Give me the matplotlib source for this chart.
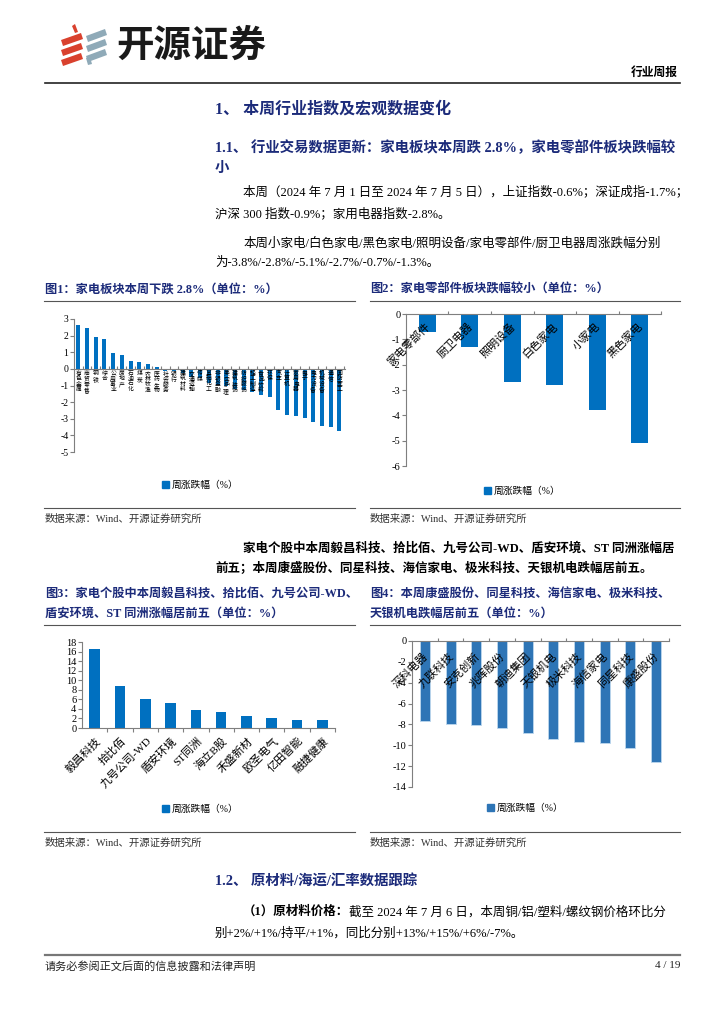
import numpy as np
import matplotlib
matplotlib.use("Agg")
from matplotlib import pyplot as plt
from matplotlib.patches import Polygon, Patch

plt.rcParams['font.family'] = ['Liberation Serif', 'Noto Sans CJK SC', 'DejaVu Sans']
plt.rcParams['axes.unicode_minus'] = False

# ---data---
ind_names = ['有色金属', '商贸零售', '钢铁', '综合', '公用事业', '房地产', '石油石化', '煤炭',
             '农林牧渔', '医药生物', '社会服务', '银行', '建筑材料', '交通运输', '传媒', '基础化工',
             '非银金融', '美容护理', '建筑装饰', '纺织服饰', '轻工制造', '食品饮料', '环保', '汽车',
             '计算机', '家用电器', '电子', '电力设备', '机械设备', '通信', '国防军工']
ind_chg = [2.64, 2.44, 1.94, 1.80, 0.98, 0.84, 0.46, 0.42, 0.28, 0.12, -0.10, -0.12, -0.22,
           -0.50, -0.56, -0.86, -0.96, -1.06, -1.20, -1.30, -1.40, -1.55, -1.70, -2.46,
           -2.76, -2.82, -2.94, -3.18, -3.46, -3.52, -3.76]

sub_names = ['家电零部件', '厨卫电器', '照明设备', '白色家电', '小家电', '黑色家电']
sub_chg = [-0.7, -1.3, -2.7, -2.8, -3.8, -5.1]

gain_names = ['毅昌科技', '拾比佰', '九号公司-WD', '盾安环境', 'ST同洲', '海立B股', '禾盛新材',
              '欧圣电气', '亿田智能', '融捷健康']
gain_chg = [16.5, 8.7, 6.0, 5.3, 3.84, 3.35, 2.6, 2.16, 1.67, 1.67]

loss_names = ['深科电器', '九联科技', '安克创新', '兆晖股份', '朝迪集团', '天银机电', '极米科技',
              '海信家电', '同星科技', '康盛股份']
loss_chg = [-7.64, -7.96, -8.09, -8.34, -8.85, -9.39, -9.68, -9.78, -10.29, -11.59]

legend_label = '周涨跌幅（%）'
BLUE = '#0070C0'
BLUE2 = '#2E75B6'
NAVY = '#1C2B7A'
BODY = 9.0

W, H = 724, 1024
fig = plt.figure(figsize=(W / 100, H / 100), dpi=100)

# page canvas in pixel coords
page = fig.add_axes([0, 0, 1, 1], zorder=0)
page.set_xlim(0, W)
page.set_ylim(H, 0)
page.axis('off')


def add_ax(x0, y0, x1, y1):
    return fig.add_axes([x0 / W, 1 - y1 / H, (x1 - x0) / W, (y1 - y0) / H], zorder=2)


def txt(x, y, s, size=BODY, bold=False, color='black', ha='left'):
    return page.text(x, y, s, fontsize=size, fontweight='bold' if bold else 'normal',
                     color=color, ha=ha, va='center')


# ---header---
red = '#D9412E'
grey_blue = '#8FAAB8'
for dy in (0, 10, 20):
    page.add_patch(Polygon([[61, 40 + dy], [81, 33 + dy], [83, 39 + dy], [63, 46 + dy]],
                           closed=True, color=red, lw=0))
page.add_patch(Polygon([[72, 26], [75, 24], [78, 32], [75, 33]], closed=True, color=red, lw=0))
for dy in (0, 10, 20):
    page.add_patch(Polygon([[86, 36 + dy], [105, 29 + dy], [107, 35 + dy], [88, 42 + dy]],
                           closed=True, color=grey_blue, lw=0))
page.add_patch(Polygon([[86, 58], [90, 57], [92, 64], [88, 65]], closed=True, color=grey_blue, lw=0))
page.text(116, 45, '开源证券', fontsize=27, fontweight='bold', color='#1a1a1a', va='center',
          family=['Noto Sans CJK SC'])

txt(678, 73, '行业周报', size=8.5, bold=True, ha='right')
page.plot([45, 680], [83, 83], color='#222222', lw=1.2)

# ---section text---
txt(215, 110, '1、 本周行业指数及宏观数据变化', size=11.5, bold=True, color=NAVY)
txt(215, 148, '1.1、 行业交易数据更新：家电板块本周跌 2.8%，家电零部件板块跌幅较', size=10.4, bold=True, color=NAVY)
txt(215, 168, '小', size=10.4, bold=True, color=NAVY)
txt(243, 192, '本周（2024 年 7 月 1 日至 2024 年 7 月 5 日），上证指数-0.6%；深证成指-1.7%；')
txt(215, 214, '沪深 300 指数-0.9%；家用电器指数-2.8%。')
txt(243, 243, '本周小家电/白色家电/黑色家电/照明设备/家电零部件/厨卫电器周涨跌幅分别')
txt(215, 263, '为-3.8%/-2.8%/-5.1%/-2.7%/-0.7%/-1.3%。')

txt(243, 548, '家电个股中本周毅昌科技、拾比佰、九号公司-WD、盾安环境、ST 同洲涨幅居', bold=True)
txt(215, 568, '前五；本周康盛股份、同星科技、海信家电、极米科技、天银机电跌幅居前五。', bold=True)

# figure titles, rules, sources
txt(45, 290, '图1：家电板块本周下跌 2.8%（单位：%）', size=8.8, bold=True, color=NAVY)
txt(370, 290, '图2：家电零部件板块跌幅较小（单位：%）', size=8.8, bold=True, color=NAVY)
txt(45, 594, '图3：家电个股中本周毅昌科技、拾比佰、九号公司-WD、', size=8.8, bold=True, color=NAVY)
txt(45, 614, '盾安环境、ST 同洲涨幅居前五（单位：%）', size=8.8, bold=True, color=NAVY)
txt(370, 594, '图4：本周康盛股份、同星科技、海信家电、极米科技、', size=8.8, bold=True, color=NAVY)
txt(370, 614, '天银机电跌幅居前五（单位：%）', size=8.8, bold=True, color=NAVY)
for x0, x1 in ((44, 355), (370, 680)):
    page.plot([x0, x1], [301, 301], color='#555555', lw=0.8)
    page.plot([x0, x1], [508, 508], color='#555555', lw=0.8)
    page.plot([x0, x1], [625, 625], color='#555555', lw=0.8)
    page.plot([x0, x1], [832, 832], color='#555555', lw=0.8)
for x0 in (45, 370):
    txt(x0, 519, '数据来源：Wind、开源证券研究所', size=7.5, color='#333333')
    txt(x0, 843, '数据来源：Wind、开源证券研究所', size=7.5, color='#333333')

txt(215, 881, '1.2、 原材料/海运/汇率数据跟踪', size=10.4, bold=True, color=NAVY)
t = txt(243, 912, '（1）原材料价格：', bold=True)
fig.canvas.draw()
bb = t.get_window_extent().transformed(page.transData.inverted())
txt(bb.x1, 912, '截至 2024 年 7 月 6 日，本周铜/铝/塑料/螺纹钢价格环比分')
txt(215, 933, '别+2%/+1%/持平/+1%，同比分别+13%/+15%/+6%/-7%。')

page.plot([45, 680], [955, 955], color='#777777', lw=1.6)
txt(45, 966, '请务必参阅正文后面的信息披露和法律声明', size=8, color='#222222')
txt(680, 966, '4 / 19', size=8, ha='right', color='#222222')


def style_axis(ax, fs):
    for s in ax.spines.values():
        s.set_color('#7f7f7f')
        s.set_linewidth(0.8)
    ax.tick_params(axis='y', labelsize=fs, length=3, width=0.8, color='#7f7f7f', pad=1)
    ax.set_facecolor('none')


def add_legend(x, y, color):
    fig.legend([Patch(color=color)], [legend_label], loc='center',
               bbox_to_anchor=(x / W, 1 - y / H), frameon=False, fontsize=7,
               handlelength=0.7, handleheight=0.7, handletextpad=0.3)


# ---Figure 1: all industries---
ax1 = add_ax(74, 319, 345, 452)
x1 = np.arange(len(ind_names))
ax1.bar(x1, ind_chg, width=0.45, color=BLUE, zorder=2)
ax1.set_xlim(-0.5, 30.65)
ax1.set_ylim(-5, 3)
ax1.set_yticks(range(-5, 4))
style_axis(ax1, 7)
ax1.spines['top'].set_visible(False)
ax1.spines['right'].set_visible(False)
ax1.spines['bottom'].set_position(('data', 0))
ax1.set_xticks(x1 + 0.5)
ax1.tick_params(axis='x', direction='in', length=2, color='#7f7f7f', labelbottom=False)
for i, name in enumerate(ind_names):
    ax1.text(i, -0.12, '\n'.join(name), ha='center', va='top', fontsize=4.2,
             linespacing=1.05, zorder=3)
add_legend(200, 485, BLUE)

# ---Figure 2: sub-sectors---
ax2 = add_ax(406, 314, 661, 466)
x2 = np.arange(len(sub_names))
ax2.bar(x2, sub_chg, width=0.4, color=BLUE, zorder=2)
ax2.set_xlim(-0.5, 5.5)
ax2.set_ylim(-6, 0)
ax2.set_yticks(range(-6, 1))
style_axis(ax2, 7.5)
ax2.spines['bottom'].set_visible(False)
ax2.spines['right'].set_visible(False)
ax2.xaxis.tick_top()
ax2.set_xticks(x2 + 0.5)
ax2.tick_params(axis='x', direction='out', length=2.5, color='#7f7f7f', labeltop=False)
for i, name in enumerate(sub_names):
    ax2.text(i + 0.03, -0.42, name, ha='right', va='center', rotation=45,
             rotation_mode='anchor', fontsize=8, zorder=3)
add_legend(522, 491, BLUE)

# ---Figure 3: top gainers---
ax3 = add_ax(82, 642, 335, 728)
x3 = np.arange(len(gain_names))
ax3.bar(x3, gain_chg, width=0.42, color=BLUE, zorder=2)
ax3.set_xlim(-0.5, 9.5)
ax3.set_ylim(0, 18)
ax3.set_yticks(range(0, 19, 2))
style_axis(ax3, 7.5)
ax3.spines['top'].set_visible(False)
ax3.spines['right'].set_visible(False)
ax3.set_xticks(x3 + 0.5)
ax3.tick_params(axis='x', direction='out', length=3, color='#7f7f7f', labelbottom=False)
for i, name in enumerate(gain_names):
    ax3.text(i + 0.17, -0.128, name, ha='right', va='center', rotation=45,
             rotation_mode='anchor', fontsize=8, transform=ax3.get_xaxis_transform())
add_legend(200, 809, BLUE)

# ---Figure 4: top losers---
ax4 = add_ax(412, 641, 669, 787)
x4 = np.arange(len(loss_names))
ax4.bar(x4, loss_chg, width=0.39, color=BLUE2, edgecolor='#BDD7EE', lw=0.6, zorder=2)
ax4.set_xlim(-0.5, 9.5)
ax4.set_ylim(-14, 0)
ax4.set_yticks(range(-14, 1, 2))
style_axis(ax4, 7.5)
ax4.spines['bottom'].set_visible(False)
ax4.spines['right'].set_visible(False)
ax4.xaxis.tick_top()
ax4.set_xticks(x4 + 0.5)
ax4.tick_params(axis='x', direction='out', length=2.5, color='#7f7f7f', labeltop=False)
for i, name in enumerate(loss_names):
    ax4.text(i + 0.05, -1.27, name, ha='right', va='center', rotation=45,
             rotation_mode='anchor', fontsize=8, zorder=3)
add_legend(525, 808, BLUE2)

fig.savefig('out.png', dpi=100)
